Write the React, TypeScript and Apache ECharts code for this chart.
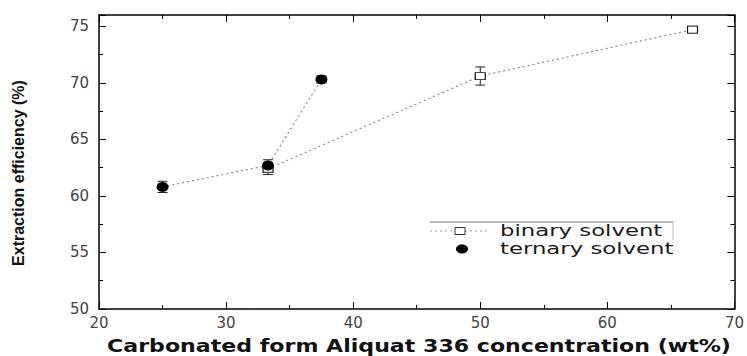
import React, { useEffect, useRef } from "react";
import * as echarts from "echarts";

const binaryX = [33.3, 50, 66.7];
const binaryY = [62.4, 70.6, 74.7];
const binaryErr = [0.5, 0.8, 0.3];
const ternaryX = [25, 33.3, 37.5];
const ternaryY = [60.8, 62.7, 70.3];
const ternaryErr = [0.5, 0.5, 0.3];
const seriesNames = ["binary solvent", "ternary solvent"];
const xTitle = "Carbonated form Aliquat 336 concentration (wt%)";
const yTitle = "Extraction efficiency (%)";

export default function App() {
  const ref = useRef<HTMLDivElement>(null);
  useEffect(() => {
    const chart = echarts.init(ref.current!, undefined, { renderer: "svg" });
    const binary = binaryX.map((x, i) => [x, binaryY[i]]);
    const ternary = ternaryX.map((x, i) => [x, ternaryY[i]]);
    const errData = [
      ...binaryX.map((x, i) => [x, binaryY[i] - binaryErr[i], binaryY[i] + binaryErr[i]]),
      ...ternaryX.map((x, i) => [x, ternaryY[i] - ternaryErr[i], ternaryY[i] + ternaryErr[i]]),
    ];
    const axisCommon = {
      axisLine: { show: true, lineStyle: { color: "#000", width: 1.5 } },
      axisTick: { show: true, inside: true, length: 7, lineStyle: { color: "#000", width: 1 } },
      minorTick: { show: true, splitNumber: 2, length: 4, lineStyle: { color: "#000" } },
      splitLine: { show: false },
    };
    const labelStyle = { color: "#444", fontFamily: "DejaVu Sans", fontSize: 15 };
    const legendText = { fill: "#1a1a1a", font: "15px 'DejaVu Sans'", textVerticalAlign: "middle" };
    chart.setOption({
      animation: false,
      backgroundColor: "#fff",
      grid: { left: 99, right: 12, top: 15, bottom: 47 },
      xAxis: [
        { type: "value", min: 20, max: 70, interval: 10, position: "bottom", ...axisCommon,
          axisLabel: { ...labelStyle, margin: 6 } },
        { type: "value", min: 20, max: 70, interval: 10, position: "top", ...axisCommon,
          axisLabel: { show: false } },
      ],
      yAxis: [
        { type: "value", min: 50, max: 76, interval: 5, position: "left", ...axisCommon,
          axisLabel: { ...labelStyle, margin: 10 } },
        { type: "value", min: 50, max: 76, interval: 5, position: "right", ...axisCommon,
          axisLabel: { show: false } },
      ],
      graphic: [
        { type: "line", shape: { x1: 430, y1: 222, x2: 673, y2: 222 }, style: { stroke: "#777", lineWidth: 1 } },
        { type: "line", shape: { x1: 673, y1: 222, x2: 673, y2: 240 }, style: { stroke: "#bbb", lineWidth: 1 } },
        { type: "line", shape: { x1: 430, y1: 231, x2: 490, y2: 231 }, style: { stroke: "#999", lineWidth: 1, lineDash: [2, 3] } },
        { type: "rect", shape: { x: 455, y: 227.5, width: 10, height: 7 }, style: { fill: "#fff", stroke: "#333", lineWidth: 1 } },
        { type: "ellipse", shape: { cx: 462, cy: 249, rx: 6, ry: 4.5 }, style: { fill: "#000" } },
        { type: "text", x: 500, y: 231, scaleX: 1.52, style: { ...legendText, text: seriesNames[0] } },
        { type: "text", x: 500, y: 249, scaleX: 1.52, style: { ...legendText, text: seriesNames[1] } },
        { type: "text", x: 419, y: 346, scaleX: 1.3, style: { text: xTitle, fill: "#111", font: "bold 17px 'DejaVu Sans'", textAlign: "center", textVerticalAlign: "middle" } },
        { type: "text", x: 18, y: 173, rotation: Math.PI / 2, style: { text: yTitle, fill: "#111", font: "bold 16px 'Liberation Sans Narrow', 'Liberation Sans'", textAlign: "center", textVerticalAlign: "middle" } },
      ],
      series: [
        { name: seriesNames[0], type: "line", data: binary, symbol: "rect", symbolSize: [10, 7],
          itemStyle: { color: "#fff", borderColor: "#111", borderWidth: 1 },
          lineStyle: { color: "#888", width: 1.2, type: [2, 3] }, z: 3 },
        { name: seriesNames[1], type: "line", data: ternary, symbol: "circle", symbolSize: [12, 10],
          itemStyle: { color: "#000" },
          lineStyle: { color: "#888", width: 1.2, type: [2, 3] }, z: 4 },
        { type: "custom", data: errData, z: 2,
          renderItem: (params: any, api: any) => {
            const x = api.value(0);
            const lo = api.coord([x, api.value(1)]);
            const hi = api.coord([x, api.value(2)]);
            const w = 5;
            const st = { stroke: "#222", lineWidth: 1 };
            return { type: "group", children: [
              { type: "line", shape: { x1: lo[0], y1: lo[1], x2: hi[0], y2: hi[1] }, style: st },
              { type: "line", shape: { x1: lo[0] - w, y1: lo[1], x2: lo[0] + w, y2: lo[1] }, style: st },
              { type: "line", shape: { x1: hi[0] - w, y1: hi[1], x2: hi[0] + w, y2: hi[1] }, style: st },
            ] };
          } },
      ],
    });
    return () => chart.dispose();
  }, []);
  return <div ref={ref} style={{ width: 747, height: 356, position: "absolute", left: 0, top: 0 }} />;
}
